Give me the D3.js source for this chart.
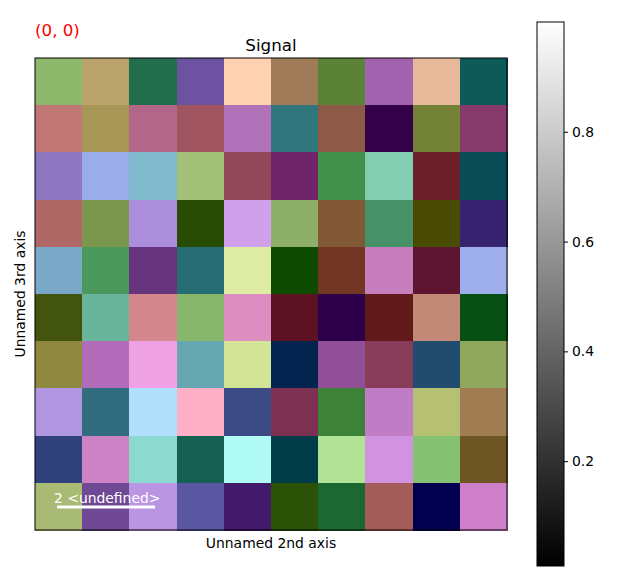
<!DOCTYPE html>
<html><head><meta charset="utf-8">
<script src="https://cdn.jsdelivr.net/npm/d3@7"></script>
<style>body{margin:0;background:#fff}svg{display:block;font-family:"DejaVu Sans",sans-serif}</style>
</head><body><div id="c"></div>
<script>
const row0 = ["#8db86b","#b9a26c","#216d4c","#6c52a0","#fed1b0","#a07b58","#5b8236","#a163ae","#e6b99b","#0e5a58"];
const row1 = ["#c17775","#a69757","#b36788","#a05561","#b272b9","#31767c","#8c5a46","#340048","#748236","#863a6b"];
const row2 = ["#8e76c0","#9bacea","#80bacc","#a3c176","#924858","#70256b","#42904a","#83cdb3","#6a1f29","#0a4c56"];
const row3 = ["#b06866","#7a974d","#ab8fdc","#284c03","#d1a0ea","#8daf67","#815936","#479168","#4a4c03","#372471"];
const row4 = ["#7aa8c8","#4b985c","#66357e","#266c73","#dfeda4","#0e4b01","#733524","#c67dbb","#5e1530","#9eaeea"];
const row5 = ["#42540d","#69b49a","#d3868b","#88b76c","#dc8ec0","#5c1223","#2e004a","#611a19","#c28a76","#074f12"];
const row6 = ["#8f8940","#b36cb9","#eea2e3","#65a6b1","#d4e496","#01234e","#904f97","#883c59","#214c6d","#91a75d"];
const row7 = ["#b197e1","#326d7f","#b0e0fc","#feb0c7","#3c4b86","#7c3052","#3e8237","#c07cc5","#b6c073","#a07c53"];
const row8 = ["#30417c","#cd82c5","#8cd9cf","#155f53","#b1fbf7","#003d48","#b1e295","#d193e0","#84c173","#6e5524"];
const row9 = ["#a8ba73","#6f4994","#b995e2","#5b57a3","#411b6a","#2b5207","#1d6732","#a45c5a","#02004e","#cd80c8"];
const rows = [row0,row1,row2,row3,row4,row5,row6,row7,row8,row9];
const colIdx = d3.range(10);
const rowIdx = d3.range(10);
const cbDomain = [0.009, 1.0];
const cbTicks = [0.2, 0.4, 0.6, 0.8];

const W = 640, H = 581;
const svg = d3.select("#c").append("svg").attr("width", W).attr("height", H);

const x = d3.scaleBand().domain(colIdx).range([35, 507]).padding(0);
const y = d3.scaleBand().domain(rowIdx).range([58, 530]).padding(0);

const cells = [];
rows.forEach((r, i) => r.forEach((c, j) => cells.push({i, j, c})));
svg.append("g").selectAll("rect").data(cells).join("rect")
  .attr("x", d => x(d.j)).attr("y", d => y(d.i))
  .attr("width", x.bandwidth()+0.5).attr("height", y.bandwidth()+0.5)
  .attr("fill", d => d.c).attr("shape-rendering","crispEdges");

svg.append("rect").attr("x",35).attr("y",58).attr("width",472).attr("height",472)
  .attr("fill","none").attr("stroke","#000").attr("stroke-width",1);

// title & labels
svg.append("text").attr("x",271).attr("y",51).attr("text-anchor","middle").attr("font-size",16.7).text("Signal");
svg.append("text").attr("x",35).attr("y",36).attr("fill","red").attr("font-size",16.7).text("(0, 0)");
svg.append("text").attr("x",271).attr("y",548).attr("text-anchor","middle").attr("font-size",13.9).text("Unnamed 2nd axis");
svg.append("text").attr("transform","translate(25,294) rotate(-90)").attr("text-anchor","middle").attr("font-size",13.9).text("Unnamed 3rd axis");

// scale bar
svg.append("text").attr("x",54).attr("y",503).attr("fill","#fff").attr("font-size",13.9).text("2 <undefined>");
svg.append("line").attr("x1",57).attr("x2",155).attr("y1",507).attr("y2",507).attr("stroke","#fff").attr("stroke-width",3);

// colorbar
const cbX = 537, cbW = 27, cbTop = 22, cbBot = 566;
const cy = d3.scaleLinear().domain(cbDomain).range([cbBot, cbTop]);
const defs = svg.append("defs");
const grad = defs.append("linearGradient").attr("id","g").attr("x1",0).attr("y1",1).attr("x2",0).attr("y2",0);
grad.append("stop").attr("offset",0).attr("stop-color","#000");
grad.append("stop").attr("offset",1).attr("stop-color","#fff");
svg.append("rect").attr("x",cbX).attr("y",cbTop).attr("width",cbW).attr("height",cbBot-cbTop)
  .attr("fill","url(#g)").attr("stroke","#000").attr("stroke-width",1);
const ax = d3.axisRight(cy).tickValues(cbTicks).tickSize(4).tickPadding(4).tickFormat(d3.format(".1f"));
const ag = svg.append("g").attr("transform",`translate(${cbX+cbW},0)`).call(ax);
ag.select(".domain").remove();
ag.selectAll("text").attr("font-size",13.9).attr("font-family","DejaVu Sans");
</script></body></html>
